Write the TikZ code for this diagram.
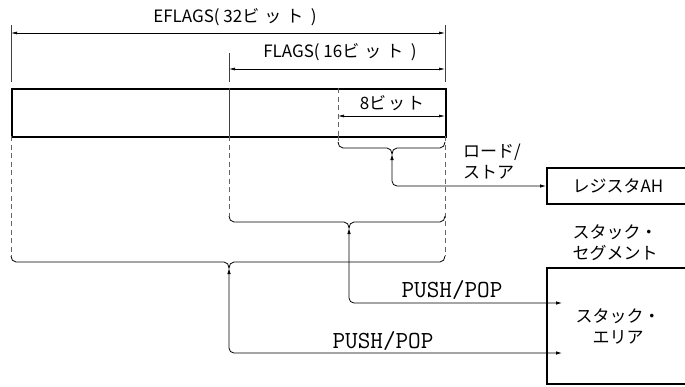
\documentclass[tikz,border=0pt]{standalone}
\usepackage{fontspec}
\setmainfont{Noto Sans CJK JP}
\usetikzlibrary{arrows.meta}
\newcommand{\kk}{\kern5pt}
\begin{document}
\begin{tikzpicture}[x=1pt,y=1pt,
  tick/.style={line width=0.7pt, black!75},
  dashline/.style={line width=0.7pt, black!60, dash pattern=on 5pt off 3.5pt},
  conn/.style={line width=0.8pt, rounded corners=5pt, {Latex[length=6pt,width=3.5pt]}-{Latex[length=6pt,width=3.5pt]}},
  dim/.style={line width=0.7pt, {Latex[length=6pt,width=3pt]}-{Latex[length=6pt,width=3pt]}},
  lbl/.style={font=\fontsize{17}{21}\selectfont, inner sep=0pt},
  mlbl/.style={font=\ttfamily\fontsize{24.5}{26}\selectfont, inner sep=0pt},
  regbox/.style={draw, line width=2pt},
  bracepath/.style={line width=0.8pt}
]
\clip (0,0) rectangle (685,-386);
% register bar
\node[regbox, minimum width=434, minimum height=48, inner sep=0pt, anchor=north west] (bar) at (11,-88) {};
\draw[tick] (229,-88) -- (229,-136);
\draw[dashline] (338,-88) -- (338,-136);
% dimension ticks
\coordinate (tA) at (11,-25);  \coordinate (tAb) at (11,-82);
\coordinate (tB) at (445,-25); \coordinate (tBb) at (445,-82);
\coordinate (tC) at (229,-53); \coordinate (tCb) at (229,-82);
\draw[tick] (tA) -- (tAb);
\draw[tick] (tB) -- (tBb);
\draw[tick] (tC) -- (tCb);
\coordinate (e1) at (11,-33);  \coordinate (e2) at (445,-33);
\coordinate (f1) at (229,-69); \coordinate (f2) at (445,-69);
\coordinate (g1) at (338,-116); \coordinate (g2) at (445,-116);
\draw[dim] (e1) -- (e2);
\draw[dim] (f1) -- (f2);
\draw[dim] (g1) -- (g2);
\node[lbl] (eflags) at (235,-17) {EFLAGS(\ 32ビ\kk ッ\kk ト\ \ )};
\node[lbl] (flags) at (340,-52) {FLAGS(\ 16ビ\kk ッ\kk ト\ \ )};
\node[lbl] (bits8) at (392,-103) {8ビ\kern2pt ッ\kern2pt ト};
% dashed extensions
\draw[dashline] (11,-136) -- (11,-256);
\draw[dashline] (229,-136) -- (229,-216);
\draw[dashline] (338,-136) -- (338,-142);
\draw[dashline] (445,-136) -- (445,-256);
% braces
\draw[bracepath] (338,-142) to[out=-90,in=180] (343,-148) -- (387,-148) to[out=0,in=90] (392,-154) to[out=90,in=180] (397,-148) -- (440,-148) to[out=0,in=-90] (445,-142);
\draw[bracepath] (229,-216) to[out=-90,in=180] (234,-222) -- (344,-222) to[out=0,in=90] (349,-228) to[out=90,in=180] (354,-222) -- (440,-222) to[out=0,in=-90] (445,-216);
\draw[bracepath] (11,-256) to[out=-90,in=180] (16,-262) -- (224,-262) to[out=0,in=90] (229,-268) to[out=90,in=180] (234,-262) -- (440,-262) to[out=0,in=-90] (445,-256);
\coordinate (tipS) at (392,-154);
\coordinate (tipM) at (349,-228);
\coordinate (tipL) at (229,-268);
% right side boxes
\node[regbox, lbl, inner sep=0pt, minimum width=142, minimum height=36, anchor=north west] (ah) at (546,-167) {レジスタAH};
\node[lbl, align=center] (seg) at (615,-243) {スタック・\\セグメント};
\node[regbox, lbl, align=center, inner sep=0pt, minimum width=142, minimum height=116, anchor=north west] (area) at (546,-267) {スタック・\\エリア};
\node[lbl, align=left, anchor=west] (ldst) at (463,-162) {ロード/\\ストア};
% connectors
\draw[conn] (tipS) |- (ah.west);
\coordinate (in1) at (562,-303);
\coordinate (in2) at (562,-353);
\draw[conn] (tipM) |- (in1);
\draw[conn] (tipL) |- (in2);
\node[mlbl] (pp1) at (452,-290) {PUSH/POP};
\node[mlbl] (pp2) at (383,-341) {PUSH/POP};
\end{tikzpicture}
\end{document}
